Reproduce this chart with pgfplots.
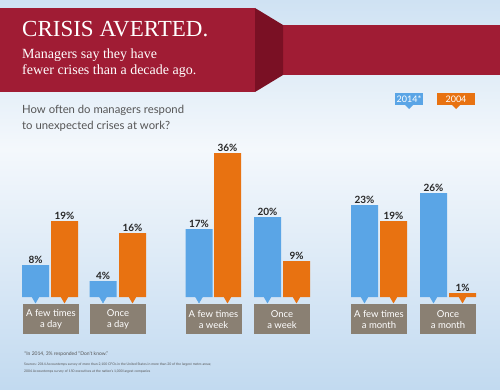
\documentclass[border=0pt]{standalone}
\usepackage{pgfplots}
\pgfplotsset{compat=1.18}
\usepackage{fontspec}
\setmainfont{Lato}
\newfontfamily\titlefont{Liberation Serif}
\definecolor{bgA}{HTML}{CFE2F3}
\definecolor{bgM}{HTML}{F4F8FC}
\definecolor{bgB}{HTML}{C2DAF0}
\definecolor{banner}{HTML}{A01C34}
\definecolor{bannerdark}{HTML}{7A1024}
\definecolor{cblue}{HTML}{5AA5E6}
\definecolor{corange}{HTML}{E87211}
\definecolor{boxgray}{HTML}{8A8073}
\definecolor{qgray}{HTML}{555555}
\begin{document}
\begin{tikzpicture}[x=1pt,y=1pt]
% background
\shade[top color=bgA, bottom color=bgM] (0,389) rectangle (500,240);
\shade[top color=bgM, bottom color=bgB] (0,240) rectangle (500,0);
% banner
\fill[banner] (283,364) rectangle (500,314);
\fill[bannerdark] (255,381) -- (283,364) -- (283,314) -- (255,297) -- cycle;
\fill[banner] (0,381) rectangle (255,297);
\node[anchor=base west, inner sep=0, text=white, font=\titlefont\fontsize{23}{26}\selectfont] at (22,352) {CRISIS AVERTED.};
\node[anchor=base west, inner sep=0, text=white, font=\titlefont\fontsize{14}{16}\selectfont] at (22,330) {Managers say they have};
\node[anchor=base west, inner sep=0, text=white, font=\titlefont\fontsize{14}{16}\selectfont] at (22,314) {fewer crises than a decade ago.};
% question
\node[anchor=base west, inner sep=0, text=qgray, font=\fontsize{11.3}{14}\selectfont] at (22,276) {How often do managers respond};
\node[anchor=base west, inner sep=0, text=qgray, font=\fontsize{11.3}{14}\selectfont] at (22,260) {to unexpected crises at work?};
% legend
\fill[cblue] (395,296) rectangle (423,284);
\fill[cblue] (405,284) -- (413,284) -- (409,280) -- cycle;
\node[text=white, font=\fontsize{9}{10}\selectfont, inner sep=0] at (409,290) {2014*};
\fill[corange] (437,296) rectangle (475,284);
\fill[corange] (452,284) -- (460,284) -- (456,280) -- cycle;
\node[text=white, font=\fontsize{9}{10}\selectfont, inner sep=0] at (456,290) {2004};
% footnotes
\node[anchor=base west, inner sep=0, text=qgray, font=\fontsize{5}{6}\selectfont] at (24,34) {*In 2014, 3\% responded ``Don't know.''};
\node[anchor=base west, inner sep=0, text=qgray, font=\fontsize{3.4}{4}\selectfont] at (24,24) {Sources: 2014 Accountemps survey of more than 2,100 CFOs in the United States in more than 20 of the largest metro areas;};
\node[anchor=base west, inner sep=0, text=qgray, font=\fontsize{3.4}{4}\selectfont] at (24,17) {2004 Accountemps survey of 150 executives at the nation's 1,000 largest companies};
\begin{axis}[
  at={(0pt,92pt)}, anchor=origin,
  scale only axis, width=500pt, height=160pt,
  xmin=0, xmax=500, ymin=0, ymax=40,
  enlargelimits=false,
  clip=false,
  axis line style={draw=none},
  major tick style={draw=none},
  ymajorticks=false,
  /pgf/number format/assume math mode=true,
  xtick={51,118,213.5,282,379,448},
  xticklabels={{A few times\\a day},{Once\\a day},{A few times\\a week},{Once\\a week},{A few times\\a month},{Once\\a month}},
  xticklabel style={fill=boxgray, text=white, minimum width=56pt, minimum height=30pt, inner sep=0pt, align=center, font=\fontsize{9.5}{11.5}\selectfont, yshift=-3pt},
  ybar, bar width=27,
  nodes near coords={\pgfmathprintnumber{\pgfplotspointmeta}\%},
  nodes near coords style={font=\bfseries\fontsize{10}{12}\selectfont, text=black!85, inner sep=1.5pt},
]
\addplot[fill=cblue, draw=none, bar shift=0pt] coordinates {(35.5,8) (103,4) (199,17) (267.5,20) (364.5,23) (433.5,26)};
\addplot[fill=corange, draw=none, bar shift=0pt] coordinates {(64.5,19) (132.5,16) (227.5,36) (296.5,9) (393.5,19) (462.5,1)};
\addplot[only marks, color=cblue, mark=triangle*, mark size=4pt, mark options={rotate=180, fill=cblue, draw=cblue}, nodes near coords={}] coordinates {(35.5,-0.5) (103,-0.5) (199,-0.5) (267.5,-0.5) (364.5,-0.5) (433.5,-0.5)};
\addplot[only marks, color=corange, mark=triangle*, mark size=4pt, mark options={rotate=180, fill=corange, draw=corange}, nodes near coords={}] coordinates {(64.5,-0.5) (132.5,-0.5) (227.5,-0.5) (296.5,-0.5) (393.5,-0.5) (462.5,-0.5)};
\end{axis}
\end{tikzpicture}
\end{document}
